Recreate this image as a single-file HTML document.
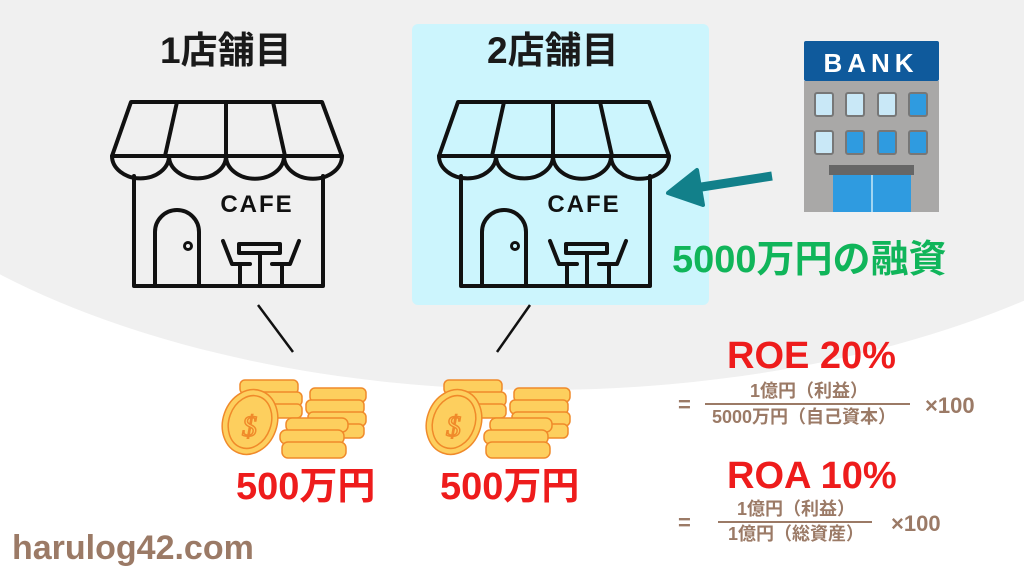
<!DOCTYPE html>
<html><head><meta charset="utf-8"><style>
body{margin:0;width:1024px;height:576px;overflow:hidden;background:#fff;position:relative;font-family:"Liberation Sans","Noto Sans CJK JP",sans-serif;}
.t{position:absolute;font-weight:bold;white-space:nowrap;line-height:1;}
</style></head><body>
<svg width="1024" height="576" style="position:absolute;left:0;top:0">
<defs>
<g id="cafe">
<g fill="none" stroke="#111" stroke-width="4" stroke-linejoin="round" stroke-linecap="round">
<path d="M131,102 H322 L342,156 H112 Z"/>
<line x1="177" y1="102" x2="165" y2="156"/><line x1="226" y1="102" x2="226" y2="156"/><line x1="273" y1="102" x2="285" y2="156"/>
<path d="M112,156 A28,22 0 0 0 169,156 A28,22 0 0 0 226,156 A28,22 0 0 0 284,156 A28,22 0 0 0 342,156"/>
<path d="M134,176 V286 H323 V176"/>
<path d="M155,286 V232 A22,22 0 0 1 199,232 V286"/>
<circle cx="188" cy="246" r="3.5" stroke-width="3"/>
<rect x="239" y="244" width="41" height="9"/>
<line x1="260" y1="253" x2="260" y2="286"/>
<path d="M223,241 L232,264 H250 M240,264 V286"/>
<path d="M299,241 L290,264 H272 M282,264 V286"/>
</g>
<text x="257" y="212" font-size="24" font-weight="bold" fill="#111" text-anchor="middle" letter-spacing="2" font-family="Liberation Sans">CAFE</text>
</g>
<g id="coins" stroke="#f08a2a" stroke-width="1.5" fill="#fdcf5e">
<rect x="240" y="380" width="58" height="14" rx="5"/>
<rect x="242" y="392" width="60" height="14" rx="5"/>
<rect x="244" y="404" width="58" height="14" rx="5"/>
<rect x="310" y="388" width="56" height="14" rx="5"/>
<rect x="306" y="400" width="58" height="14" rx="5"/>
<rect x="308" y="412" width="58" height="14" rx="5"/>
<rect x="310" y="424" width="54" height="14" rx="5"/>
<ellipse cx="250" cy="422" rx="27" ry="33" transform="rotate(20 250 422)"/>
<ellipse cx="250" cy="422" rx="21" ry="27" transform="rotate(20 250 422)" fill="none"/>
<text x="242" y="436" font-size="30" fill="none" stroke="#f08a2a" font-family="Liberation Serif" font-style="italic">$</text>
<rect x="286" y="418" width="62" height="14" rx="6"/>
<rect x="280" y="430" width="64" height="14" rx="6"/>
<rect x="282" y="442" width="64" height="16" rx="6"/>
</g>
</defs>
<ellipse cx="540" cy="0" rx="760" ry="390" fill="#f0f0f0"/>
<rect x="412" y="24" width="297" height="281" rx="6" fill="#ccf5fd"/>
<use href="#cafe"/>
<use href="#cafe" transform="translate(327,0)"/>
<line x1="258" y1="305" x2="293" y2="352" stroke="#111" stroke-width="2.5"/>
<line x1="530" y1="305" x2="497" y2="352" stroke="#111" stroke-width="2.5"/>
<use href="#coins"/>
<use href="#coins" transform="translate(204,0)"/>
<!-- bank -->
<rect x="804" y="41" width="135" height="40" rx="2" fill="#0f5a9c"/>
<text x="871" y="72" font-size="26" font-weight="bold" fill="#fff" text-anchor="middle" letter-spacing="5" font-family="Liberation Sans">BANK</text>
<rect x="804" y="81" width="135" height="131" fill="#a9a8a7"/>
<g fill="#c9e8f7" stroke="#777" stroke-width="2">
<rect x="815" y="93" width="18" height="23" rx="2"/><rect x="846" y="93" width="18" height="23" rx="2"/><rect x="878" y="93" width="18" height="23" rx="2"/><rect x="909" y="93" width="18" height="23" fill="#2f9be0" rx="2"/>
<rect x="815" y="131" width="18" height="23" rx="2"/><rect x="846" y="131" width="18" height="23" fill="#2f9be0" rx="2"/><rect x="878" y="131" width="18" height="23" fill="#2f9be0" rx="2"/><rect x="909" y="131" width="18" height="23" fill="#2f9be0" rx="2"/>
</g>
<rect x="829" y="165" width="85" height="10" fill="#666"/>
<rect x="833" y="175" width="78" height="37" fill="#2f9be0"/>
<line x1="872" y1="175" x2="872" y2="212" stroke="#c9e8f7" stroke-width="1.5"/>
<!-- arrow -->
<line x1="772" y1="176" x2="695" y2="188" stroke="#12808a" stroke-width="9"/>
<path d="M668,193 L697,170 L703,205 Z" fill="#12808a" stroke="#12808a" stroke-width="4" stroke-linejoin="round"/>
<!-- fraction lines -->
<line x1="705" y1="404" x2="910" y2="404" stroke="#9b7a66" stroke-width="2"/>
<line x1="718" y1="522" x2="872" y2="522" stroke="#9b7a66" stroke-width="2"/>
</svg>
<div class="t" style="left:160px;top:32px;font-size:37px;color:#1a1a1a">1店舗目</div>
<div class="t" style="left:487px;top:32px;font-size:37px;color:#1a1a1a">2店舗目</div>
<div class="t" style="left:672px;top:241px;font-size:38px;color:#10b55a">5000万円の融資</div>
<div class="t" style="left:236px;top:468px;font-size:38px;color:#ee1c1c">500万円</div>
<div class="t" style="left:440px;top:468px;font-size:38px;color:#ee1c1c">500万円</div>
<div class="t" style="left:727px;top:337px;font-size:38px;color:#ee1c1c">ROE 20%</div>
<div class="t" style="left:727px;top:457px;font-size:38px;color:#ee1c1c">ROA 10%</div>
<div class="t" style="left:678px;top:394px;font-size:22px;color:#9b7a66">=</div>
<div class="t" style="left:750px;top:382px;font-size:18px;color:#9b7a66">1億円（利益）</div>
<div class="t" style="left:712px;top:408px;font-size:18px;color:#9b7a66">5000万円（自己資本）</div>
<div class="t" style="left:925px;top:395px;font-size:22px;color:#9b7a66">×100</div>
<div class="t" style="left:678px;top:512px;font-size:22px;color:#9b7a66">=</div>
<div class="t" style="left:737px;top:500px;font-size:18px;color:#9b7a66">1億円（利益）</div>
<div class="t" style="left:728px;top:525px;font-size:18px;color:#9b7a66">1億円（総資産）</div>
<div class="t" style="left:891px;top:513px;font-size:22px;color:#9b7a66">×100</div>
<div class="t" style="left:12px;top:531px;font-size:34px;color:#9b7a66">harulog42.com</div>
</body></html>
